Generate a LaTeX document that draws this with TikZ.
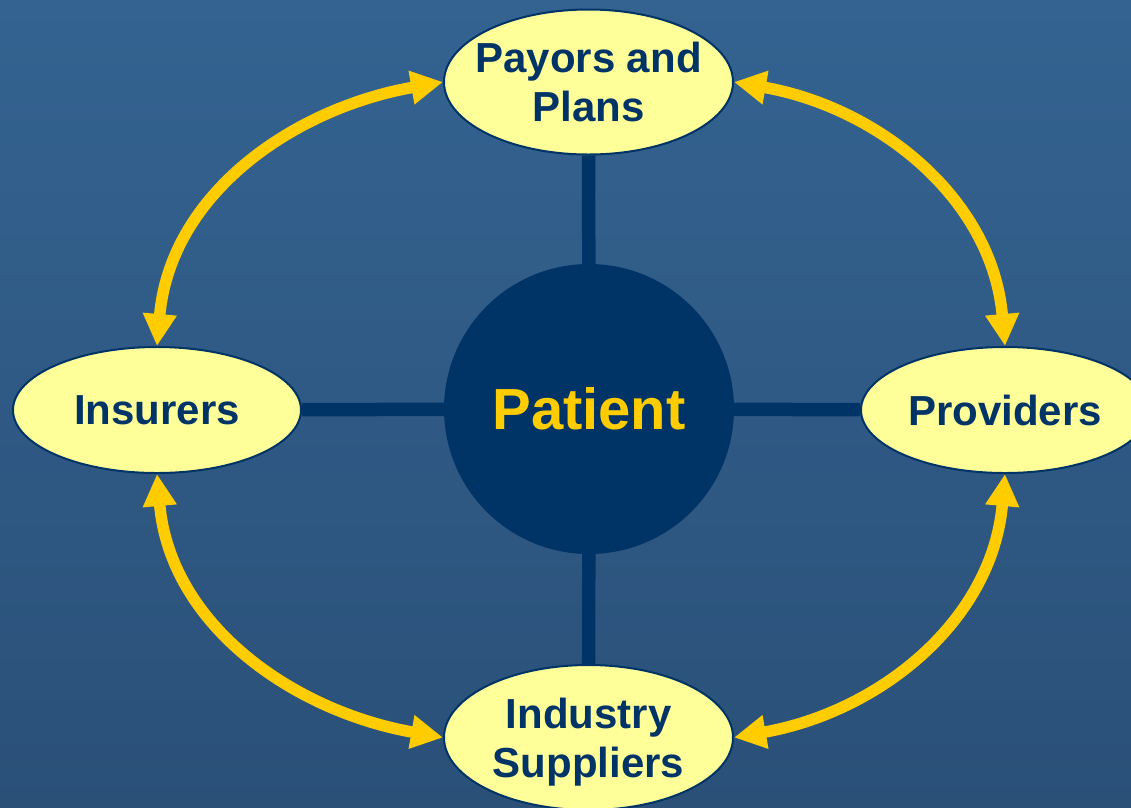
\documentclass[tikz,border=0pt]{standalone}
\usepackage{fontspec}
\setmainfont{Liberation Sans}
\usetikzlibrary{shapes.geometric,arrows.meta}
\definecolor{navy}{RGB}{0,51,102}
\definecolor{gold}{RGB}{255,204,0}
\definecolor{paleyellow}{RGB}{255,255,153}
\definecolor{bgtop}{RGB}{52,99,145}
\definecolor{bgbot}{RGB}{42,80,120}
\begin{document}
\begin{tikzpicture}[x=1pt,y=1pt,
  ell/.style={ellipse, draw=navy, line width=2pt, fill=paleyellow, text=navy,
    font=\bfseries\fontsize{42}{49}\selectfont, align=center, inner sep=0pt},
  bigell/.style={ell, minimum width=289pt, minimum height=145pt, inner xsep=-20pt},
  smallell/.style={ell, minimum width=288pt, minimum height=126pt},
  hub/.style={circle, fill=navy, minimum size=290pt, inner sep=0pt, text=gold,
    font=\bfseries\fontsize{58}{68}\selectfont},
  spoke/.style={draw=navy, line width=13.5pt},
  link/.style={draw=gold, line width=11.5pt,
    {Triangle[width=32pt,length=32pt]}-{Triangle[width=32pt,length=32pt]}}
]
\useasboundingbox (0,0) rectangle (1131,-807);
\clip (0,0) rectangle (1131,-807);
\shade[top color=bgtop, bottom color=bgbot] (0,0) rectangle (1131,-807);

\node[hub] (pat) at (589,-409) {Patient};
\node[bigell] (pay) at (588.5,-82) {Payors and\\Plans};
\node[bigell, text depth=0pt] (ind) at (588.5,-737.5) {Industry\\Suppliers};
\node[smallell] (ins) at (157,-410) {Insurers};
\node[smallell] (prov) at (1005,-410) {Providers};

\draw[spoke] (pay) -- (pat);
\draw[spoke] (ind) -- (pat);
\draw[spoke] (ins) -- (pat);
\draw[spoke] (prov) -- (pat);

\draw[link] (ins.north) to[out=85,in=190] (pay.west);
\draw[link] (pay.east) to[out=-10,in=95] (prov.north);
\draw[link] (ins.south) to[out=-85,in=170] (ind.west);
\draw[link] (prov.south) to[out=-95,in=10] (ind.east);
\end{tikzpicture}
\end{document}
